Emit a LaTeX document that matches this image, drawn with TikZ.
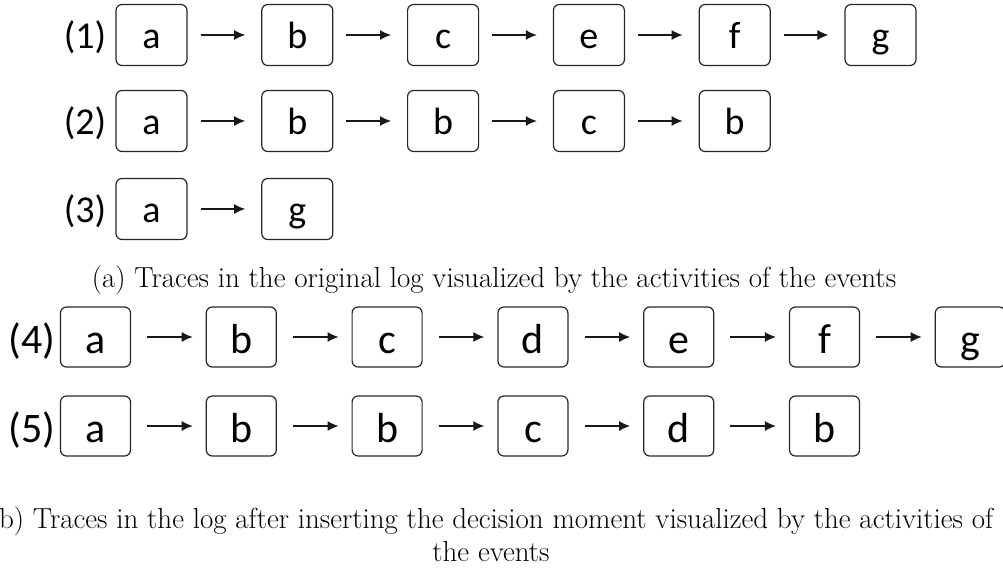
\documentclass[tikz,border=0pt]{standalone}
\usepackage{fontspec}
\newfontfamily\calib{Carlito}
\usetikzlibrary{arrows.meta}
\begin{document}
\begin{tikzpicture}[x=1pt,y=-1pt,
  act/.style={draw=black!85, line width=1.2pt, rounded corners=6pt, minimum width=71pt, minimum height=61pt, inner sep=0pt, text height=30pt, text depth=4pt, font=\calib\fontsize{38}{40}\selectfont},
  actb/.style={act, minimum width=70pt, minimum height=60pt, text height=36pt, text depth=4pt, font=\calib\fontsize{42}{44}\selectfont},
  lbl/.style={inner sep=0pt, text height=30pt, text depth=4pt, font=\calib\fontsize{38}{40}\selectfont},
  lblb/.style={inner sep=0pt, text height=36pt, text depth=4pt, font=\calib\fontsize{42}{44}\selectfont},
  flow/.style={-{Latex[length=11pt,width=10pt]}, line width=1.2pt, black!90},
  captext/.style={inner sep=0pt, font=\fontsize{29}{33}\selectfont}
]
\useasboundingbox (0,0) rectangle (1003,570);
% top traces
\def\dx{145.8}
% row 1
\node[lbl] (l1) at (85,35) {(1)};
\foreach \t [count=\i from 0] in {a,b,c,e,f,g}
  \node[act] (r1n\i) at ({151.5+\dx*\i},35) {\t};
\foreach \i [evaluate=\i as \j using int(\i+1)] in {0,...,4}
  \draw[flow] ([xshift=13pt]r1n\i.east) -- ([xshift=-16pt]r1n\j.west);
% row 2
\node[lbl] (l2) at (85,121) {(2)};
\foreach \t [count=\i from 0] in {a,b,b,c,b}
  \node[act] (r2n\i) at ({151.5+\dx*\i},121) {\t};
\foreach \i [evaluate=\i as \j using int(\i+1)] in {0,...,3}
  \draw[flow] ([xshift=13pt]r2n\i.east) -- ([xshift=-16pt]r2n\j.west);
% row 3
\node[lbl] (l3) at (85,209) {(3)};
\foreach \t [count=\i from 0] in {a,g}
  \node[act] (r3n\i) at ({151.5+\dx*\i},209) {\t};
\draw[flow] ([xshift=13pt]r3n0.east) -- ([xshift=-16pt]r3n1.west);
\node[captext, anchor=base] (capa) at (494,287) {(a) Traces in the original log visualized by the activities of the events};
% bottom traces
\node[lblb] (l4) at (32,337) {(4)};
\foreach \t [count=\i from 0] in {a,b,c,d,e,f,g}
  \node[actb] (r4n\i) at ({95.5+\dx*\i},337) {\t};
\foreach \i [evaluate=\i as \j using int(\i+1)] in {0,...,5}
  \draw[flow] ([xshift=16pt]r4n\i.east) -- ([xshift=-13pt]r4n\j.west);
\node[lblb] (l5) at (32,426) {(5)};
\foreach \t [count=\i from 0] in {a,b,b,c,d,b}
  \node[actb] (r5n\i) at ({95.5+\dx*\i},426) {\t};
\foreach \i [evaluate=\i as \j using int(\i+1)] in {0,...,4}
  \draw[flow] ([xshift=16pt]r5n\i.east) -- ([xshift=-13pt]r5n\j.west);
\node[captext, anchor=base, align=center] (capb) at (491,561) {(b) Traces in the log after inserting the decision moment visualized by the activities of\\the events};
\end{tikzpicture}
\end{document}
